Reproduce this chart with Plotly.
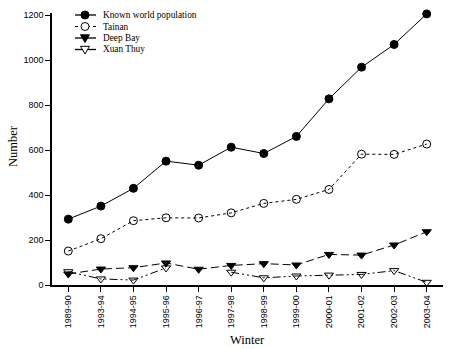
import plotly.graph_objects as go

winters = ["1989-90", "1993-94", "1994-95", "1995-96", "1996-97", "1997-98",
           "1998-99", "1999-00", "2000-01", "2001-02", "2002-03", "2003-04"]
known_world = [293, 351, 430, 551, 533, 613, 585, 661, 828, 969, 1070, 1206]
tainan = [151, 206, 286, 299, 298, 321, 363, 381, 425, 582, 581, 627]
deep_bay = [49, 71, 77, 98, 70, 87, 95, 89, 136, 133, 178, 237]
xuan_thuy = [59, 27, 22, 76, None, 57, 32, 40, 44, 47, 64, 12]
y_ticks = [0, 200, 400, 600, 800, 1000, 1200]

series = [
    ("Known world population", known_world, "solid", "circle"),
    ("Tainan", tainan, "dot", "circle-open"),
    ("Deep Bay", deep_bay, "8px,4px", "triangle-down"),
    ("Xuan Thuy", xuan_thuy, "8px,3px,2px,3px,2px,3px", "triangle-down-open"),
]

W, H = 467, 349
ML, MR, MT, MB = 52, 24, 13, 64
PW, PH = W - ML - MR, H - MT - MB


def px2paper(px):
    return (px - ML) / PW


def py2paper(py):
    return (MT + PH - py) / PH


fig = go.Figure()
for name, vals, dash, sym in series:
    fig.add_trace(go.Scatter(
        x=winters, y=vals, name=name, mode="lines+markers",
        connectgaps=False, showlegend=False, cliponaxis=False,
        line=dict(color="black", width=1, dash=dash),
        marker=dict(symbol=sym, size=8, color="black",
                    line=dict(color="black", width=1)),
    ))

# compact legend drawn with shapes + annotations (paper coords)
leg_rows_y = [15, 26.5, 38, 49.5]
leg_x0, leg_xm, leg_x1, leg_tx = 75, 85, 96, 101
legend_dash = ["solid", "dot", "solid", "solid"]
shapes = []
annotations = []
for (name, vals, dash, sym), ry, ld in zip(series, leg_rows_y, legend_dash):
    yp = py2paper(ry)
    shapes.append(dict(type="line", xref="paper", yref="paper",
                       x0=px2paper(leg_x0), x1=px2paper(leg_x1), y0=yp, y1=yp,
                       line=dict(color="black", width=1.3 if ld == "solid" else 1, dash=ld)))
    fill = "white" if "open" in sym else "black"
    common = dict(xref="paper", yref="paper", xsizemode="pixel", ysizemode="pixel",
                  xanchor=px2paper(leg_xm), yanchor=yp,
                  line=dict(color="black", width=1), fillcolor=fill)
    if "circle" in sym:
        shapes.append(dict(type="circle", x0=-4, x1=4, y0=-4, y1=4, **common))
    else:
        shapes.append(dict(type="path", path="M -4.5 3.2 L 4.5 3.2 L 0 -4.5 Z", **common))
    annotations.append(dict(
        x=px2paper(leg_tx), y=yp, xref="paper", yref="paper", text=name, showarrow=False,
        xanchor="left", yanchor="middle",
        font=dict(family="Liberation Serif", size=9.3, color="black"),
    ))

annotations.append(dict(
    x=0.5, y=py2paper(340), xref="paper", yref="paper", text="Winter",
    showarrow=False, xanchor="center", yanchor="middle",
    font=dict(family="Liberation Serif", size=12.5, color="black"),
))
annotations.append(dict(
    x=px2paper(13), y=py2paper(146), xref="paper", yref="paper", text="Number",
    showarrow=False, xanchor="center", yanchor="middle", textangle=-90,
    font=dict(family="Liberation Serif", size=12.5, color="black"),
))

fig.update_layout(
    width=W, height=H,
    margin=dict(l=ML, r=MR, t=MT, b=MB),
    paper_bgcolor="white", plot_bgcolor="white",
    showlegend=False,
    font=dict(family="Liberation Sans", size=9, color="black"),
    annotations=annotations,
    shapes=shapes,
    xaxis=dict(
        type="category", range=[-0.5, 11.5], automargin=False,
        showline=True, linecolor="black", linewidth=1.5,
        ticks="outside", ticklen=5, tickcolor="black", tickwidth=1,
        tickangle=-90, showgrid=False, zeroline=False,
        tickfont=dict(family="Liberation Sans", size=9),
    ),
    yaxis=dict(
        range=[0, 1210], tickvals=y_ticks, automargin=False,
        showline=True, linecolor="black", linewidth=1.5,
        ticks="outside", ticklen=5, tickcolor="black", tickwidth=1,
        showgrid=False, zeroline=False,
        tickfont=dict(family="Liberation Sans", size=9),
    ),
)
fig.write_html("out.html")
